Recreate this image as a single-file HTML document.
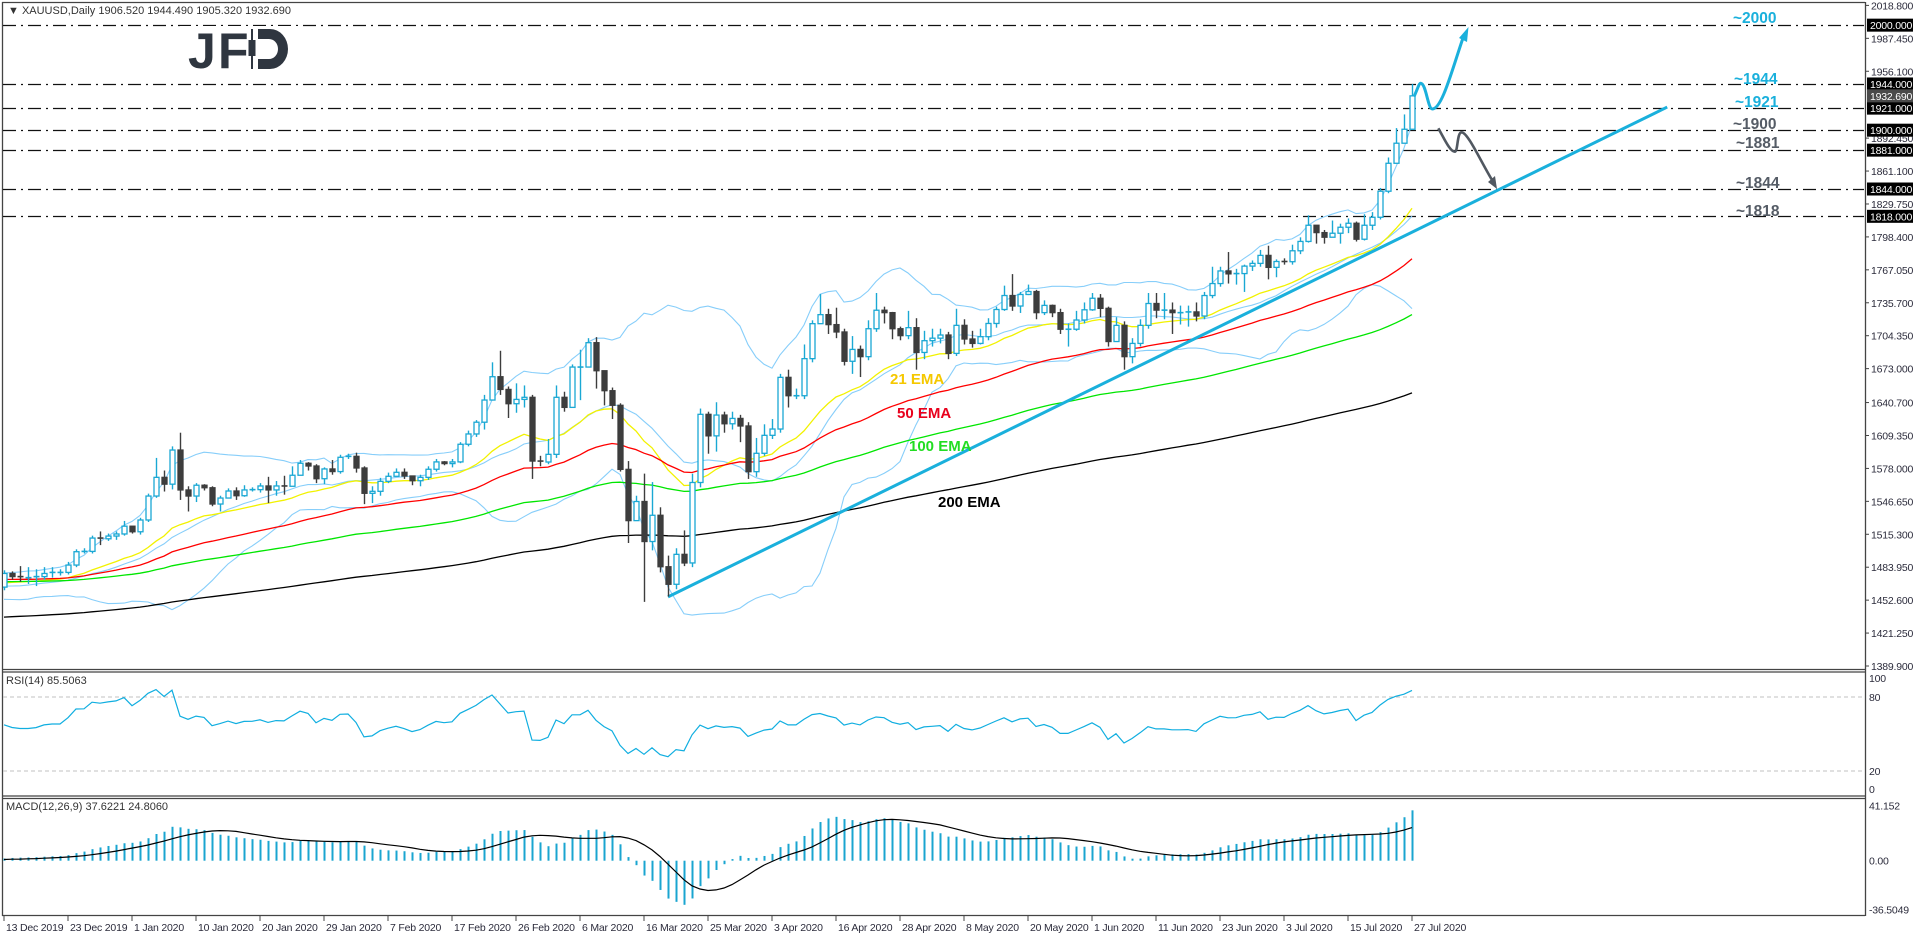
<!DOCTYPE html>
<html><head><meta charset="utf-8"><title>XAUUSD Daily</title>
<style>
html,body{margin:0;padding:0;background:#fff;}
svg{display:block;font-family:"Liberation Sans",Arial,sans-serif;}
</style></head>
<body>
<svg id="chart" width="1916" height="936" viewBox="0 0 1916 936" xmlns="http://www.w3.org/2000/svg">
<defs>
<clipPath id="mainClip"><rect x="3" y="3" width="1861" height="666"/></clipPath>
<clipPath id="rsiClip"><rect x="3" y="673" width="1861" height="122"/></clipPath>
<clipPath id="macdClip"><rect x="3" y="799" width="1861" height="115"/></clipPath>
</defs>
<rect x="0" y="0" width="1916" height="936" fill="#fff"/>
<g id="frames" fill="none" stroke="#444" stroke-width="1.3">
<line x1="2" y1="2.5" x2="1865" y2="2.5"/>
<line x1="2.5" y1="2" x2="2.5" y2="916"/>
<line x1="1865.5" y1="2" x2="1865.5" y2="916"/>
<line x1="2" y1="669.5" x2="1865" y2="669.5"/>
<line x1="2" y1="672" x2="1865" y2="672"/>
<line x1="2" y1="796" x2="1865" y2="796"/>
<line x1="2" y1="798.5" x2="1865" y2="798.5"/>
<line x1="2" y1="915.5" x2="1865" y2="915.5"/>
</g>
<g id="levels"></g>
<g id="logo">
<rect x="180" y="26" width="122" height="46" fill="#fff"/>
<text x="188" y="68" font-size="50" font-weight="bold" fill="#2f3640" letter-spacing="-1">J</text>
<text x="218" y="68" font-size="50" font-weight="bold" fill="#2f3640">F</text>
<rect x="251" y="29" width="2" height="40" fill="#2f3640"/>
<rect x="248.5" y="40" width="7" height="16" fill="#2f3640"/>
<path d="M258,29 h12 a18,20 0 0 1 0,40 h-12 v-10 h11 a9,10 0 0 0 0,-20 h-11 z" fill="#2f3640"/>
</g>
<g id="bands" clip-path="url(#mainClip)"></g>
<g id="emas" clip-path="url(#mainClip)"></g>
<g id="trend"></g>
<g id="candles" clip-path="url(#mainClip)"></g>
<g id="annot">
<path d="M1414,96.7 C1418,88 1419,83 1421,83.3 C1426,84 1428,109 1432.3,109 C1442,109 1452,70 1463,38" fill="none" stroke="#1ab0dc" stroke-width="3"/>
<polygon points="1468.5,27 1459,38 1467,42" fill="#1ab0dc"/>
<path d="M1438.3,128.3 C1444,138 1450,152 1455,151.7 C1458,151 1457,132 1461.7,132.3 C1468,133 1480,160 1492,180" fill="none" stroke="#515861" stroke-width="2.6"/>
<polygon points="1497,189 1488,182 1495,176" fill="#515861"/>
<text x="890" y="384" font-size="15" font-weight="bold" fill="#f5c800">21 EMA</text>
<text x="897" y="418" font-size="15" font-weight="bold" fill="#e8001c">50 EMA</text>
<text x="909" y="451" font-size="15" font-weight="bold" fill="#22dd22">100 EMA</text>
<text x="938" y="507" font-size="15" font-weight="bold" fill="#000">200 EMA</text>
</g>
<g id="levelLabels" font-size="15.5" font-weight="bold">
<text x="1733" y="23" fill="#1ab0dc">~2000</text>
<text x="1734" y="84" fill="#1ab0dc">~1944</text>
<text x="1735" y="107" fill="#1ab0dc">~1921</text>
<text x="1733" y="129" fill="#555c66">~1900</text>
<text x="1736" y="148" fill="#555c66">~1881</text>
<text x="1736" y="188" fill="#555c66">~1844</text>
<text x="1736" y="216" fill="#555c66">~1818</text>
</g>
<g id="rsi"></g>
<g id="macd"></g>
<g id="axes" font-size="10.5" fill="#2b2b3b" letter-spacing="-0.2"></g>
<text x="8" y="14" font-size="11" fill="#333">▼ XAUUSD,Daily  1906.520 1944.490 1905.320 1932.690</text>
<text x="6" y="684" font-size="11" fill="#333">RSI(14) 85.5063</text>
<text x="6" y="810" font-size="11" fill="#333">MACD(12,26,9) 37.6221 24.8060</text>
</svg>
<script>
// ---- data ----
const histClose = [1465,1470,1462,1458,1463,1466,1472,1470,1461,1455,1460,1464,1463,1462,1460,1459,1465,1477,1475,1465,1464,1465,1474,1462,1467];
const firstOpen = 1465;
const closes = [1478,1475,1474,1474,1475,1478,1479,1479,1486,1498.7,1499,1511.7,1511,1513.6,1515.6,1523,1517.7,1528.9,1551.7,1569.5,
1563,1595.5,1557.5,1551.7,1562,1559.6,1544.1,1549.8,1556.5,1552,1557.5,1557.8,1561.3,1557.5,1561.3,1561,1571.5,1582.9,1580.3,1568.2,
1577.5,1575,1588.6,1589.5,1578.4,1554.3,1556.2,1565.7,1570.5,1574.3,1570.8,1566.3,1569.5,1577.2,1584.2,1582.6,1584.2,1601,1610.8,1622,
1643.1,1665.3,1653.2,1639.6,1643.7,1645.7,1585,1584.1,1591.4,1645.7,1636.1,1674.5,1674.5,1697.7,1671,1652,1638.1,1577.1,1528.3,1546.5,
1508.4,1533.4,1484.4,1467.7,1496.2,1488,1564.6,1629.5,1609,1628.8,1620.5,1625.6,1618.4,1574.9,1592.4,1609.5,1615.5,1664.7,1647.2,1647.2,
1682.5,1715.8,1724.4,1714.9,1707.9,1680,1691.3,1684.4,1711,1728.6,1726.3,1711,1704.4,1712,1688.4,1699.6,1702,1705,1687.5,1714.2,
1701.2,1697,1703.4,1716,1729.3,1742.6,1732.6,1743.6,1746.4,1726.3,1733.2,1726.3,1710.5,1710.5,1719.3,1729,1740,1730.4,1698.8,1714.2,
1684.4,1697,1714.2,1735,1728.7,1728.7,1726.3,1726.3,1727,1723.1,1742.6,1754,1766,1763.2,1763.5,1770.6,1773.2,1780.8,1769.4,1775,
1774.8,1785.2,1794.1,1809.5,1802.5,1798.1,1801.9,1807.6,1811.4,1796.2,1809.5,1817.1,1841.9,1868.5,1887.6,1900.9,1932.7];
const highs = [1481,1480,1485,1484,1482,1484,1484,1482,1489,1501,1502,1514,1518,1516,1518,1528,1521,1531,1554,1588,
1576,1599,1612,1561,1564,1563,1561,1552,1559,1560,1562,1560,1564,1570,1566,1571,1580,1586,1584,1582,
1579,1586,1591,1592,1593,1580,1561,1569,1574,1578,1578,1571,1572,1580,1587,1585,1587,1603,1614,1624,
1648,1679,1690,1656,1659,1657,1648,1590,1606,1657,1651,1677,1691,1702,1703,1653,1655,1640,1585,1552,
1573,1565,1541,1495,1502,1519,1573,1635,1632,1641,1632,1632,1629,1622,1607,1620,1625,1668,1672,1654,
1696,1719,1744,1730,1731,1711,1704,1695,1719,1745,1732,1727,1713,1728,1721,1709,1711,1711,1708,1730,
1720,1709,1711,1721,1732,1752,1763,1746,1753,1748,1738,1734,1730,1716,1728,1736,1745,1744,1732,1722,
1718,1702,1720,1745,1745,1745,1736,1733,1733,1736,1746,1770,1770,1784,1768,1772,1776,1786,1790,1777,
1778,1791,1798,1819,1809,1805,1814,1811,1816,1813,1820,1822,1845,1874,1902,1915,1944];
const lows = [1462,1472,1470,1468,1466,1472,1474,1476,1477,1484,1497,1497,1505,1509,1510,1514,1516,1515,1527,1550,
1556,1558,1548,1537,1546,1557,1542,1537,1550,1548,1551,1556,1555,1545,1552,1553,1568,1574,1576,1564,
1563,1572,1573,1587,1574,1544,1545,1552,1564,1571,1568,1562,1561,1567,1575,1581,1579,1583,1599,1608,
1615,1656,1648,1626,1631,1636,1568,1580,1582,1588,1632,1636,1643,1686,1654,1638,1625,1575,1507,1540,
1451,1500,1479,1456,1463,1485,1484,1560,1592,1594,1612,1615,1603,1568,1570,1590,1606,1612,1636,1644,
1644,1679,1718,1706,1702,1676,1668,1665,1681,1708,1716,1701,1700,1701,1672,1682,1694,1697,1682,1685,
1696,1693,1696,1700,1712,1728,1728,1726,1743,1720,1724,1722,1706,1694,1709,1716,1728,1722,1694,1701,
1672,1678,1694,1711,1721,1720,1706,1715,1713,1718,1720,1740,1751,1754,1753,1746,1766,1770,1758,1760,
1772,1772,1782,1793,1792,1792,1800,1792,1802,1794,1795,1805,1815,1840,1880,1894,1905];
const emaSeeds = [1468, 1472, 1470, 1436]; // 21, 50, 100, 200 values before first bar
const emaPeriods = [21, 50, 100, 200];
const levelPrices = [2000, 1944, 1921, 1900, 1881, 1844, 1818];
const currentPrice = 1932.69;
const priceTicks = [2018.8,1987.45,1956.1,1892.45,1861.1,1829.75,1798.4,1767.05,1735.7,1704.35,1673.0,1640.7,1609.35,1578.0,1546.65,1515.3,1483.95,1452.6,1421.25,1389.9];
const dateLabels = ["13 Dec 2019","23 Dec 2019","1 Jan 2020","10 Jan 2020","20 Jan 2020","29 Jan 2020","7 Feb 2020","17 Feb 2020","26 Feb 2020","6 Mar 2020","16 Mar 2020","25 Mar 2020","3 Apr 2020","16 Apr 2020","28 Apr 2020","8 May 2020","20 May 2020","1 Jun 2020","11 Jun 2020","23 Jun 2020","3 Jul 2020","15 Jul 2020","27 Jul 2020"];
const trendStart = [83, 1455.7];
const trendEnd = [207.9, 1922];
const rsiLevels = [80, 20];
const rsiTicks = [100, 80, 20, 0];
const macdTicks = [41.152, 0, -36.5049];

// ---- scales ----
const NS = "http://www.w3.org/2000/svg";
function xB(i){ return 4 + 8*i; }
function yP(p){ return 666 - (p - 1389.9) * 1.0504; }
function yR(v){ return 795.7 - 1.233 * v; }
function yM(v){ return 860.7 - 1.337 * v; }
function mk(tag, attrs, parent){
  const el = document.createElementNS(NS, tag);
  for (const k in attrs) el.setAttribute(k, attrs[k]);
  parent.appendChild(el);
  return el;
}
const N = closes.length;
const opens = closes.map((c,i)=> i===0 ? firstOpen : closes[i-1]);

// ---- levels ----
const gLev = document.getElementById('levels');
levelPrices.forEach((p)=>{
  const y = Math.round(yP(p)) + 0.5;
  const ln = mk('line', {x1:3, y1:y, x2:1864, y2:y, stroke:'#111', 'stroke-width':1.2, 'stroke-dasharray':'13,5,2,5'}, gLev);
  
  
});

// ---- indicators ----
const all = histClose.concat(closes);
const H0 = histClose.length;
function emaFromSeed(period, seed){
  const a = 2/(period+1); let e = seed; const out=[];
  for (let i=0;i<N;i++){ e = e + a*(closes[i]-e); out.push(e); }
  return out;
}
function emaAll(period){
  const a = 2/(period+1); let e = all[0]; const out=[e];
  for (let i=1;i<all.length;i++){ e = e + a*(all[i]-e); out.push(e); }
  return out;
}
const emaColors = ['#f2f200','#ff0000','#00e600','#000000'];
const gE = document.getElementById('emas');
emaPeriods.forEach((per, k)=>{
  const e = emaFromSeed(per, emaSeeds[k]);
  const pts = e.map((v,i)=> xB(i)+','+yP(v).toFixed(1)).join(' ');
  const pl = mk('polyline', {points:pts, fill:'none', stroke:emaColors[k], 'stroke-width':1.3}, gE);
  
  
});
const bUp=[], bMid=[], bLo=[];
for (let i=0;i<N;i++){
  const j = H0+i; const w = all.slice(j-19, j+1);
  const m = w.reduce((s,v)=>s+v,0)/w.length;
  const sd = Math.sqrt(w.reduce((s,v)=>s+(v-m)*(v-m),0)/w.length);
  bMid.push(m); bUp.push(m+2*sd); bLo.push(m-2*sd);
}
const gB = document.getElementById('bands');
[['upper',bUp],['middle',bMid],['lower',bLo]].forEach(([nm,arr])=>{
  const pts = arr.map((v,i)=> xB(i)+','+yP(v).toFixed(1)).join(' ');
  const pl = mk('polyline', {points:pts, fill:'none', stroke:'#87cefa', 'stroke-width':1.1}, gB);
  
  
});

// ---- trendline ----
const gT = document.getElementById('trend');
const tl = mk('line', {x1:xB(trendStart[0]), y1:yP(trendStart[1]), x2:xB(trendEnd[0]), y2:yP(trendEnd[1]), stroke:'#1ab0dc', 'stroke-width':3}, gT);



// ---- candles ----
const gC = document.getElementById('candles');
for (let i=0;i<N;i++){
  const o=opens[i], c=closes[i], x=xB(i);
  const bull = c >= o;
  const col = bull ? '#1aa8d4' : '#3d3d3d';
  const g = mk('g', {}, gC);
  
  
  const wk = mk('line', {x1:x+0.5, x2:x+0.5, y1:yP(highs[i]), y2:yP(lows[i]), stroke:col, 'stroke-width':1.4}, g);
  
  
  const yt = yP(Math.max(o,c)), yb = yP(Math.min(o,c));
  if (yb - yt < 1.2){
    const dj = mk('line', {x1:x-2.5, x2:x+3.5, y1:yt, y2:yt, stroke:col, 'stroke-width':1.6}, g);
    
    
  } else {
    const bd = mk('rect', {x:x-2, y:yt, width:5, height:yb-yt, fill: bull ? '#fff' : col, stroke:col, 'stroke-width':1.3}, g);
    
    
  }
}

// ---- RSI(14) ----
const rsi = [];
(function(){
  let ag=0, al=0;
  for (let j=1;j<=14;j++){ const d=all[j]-all[j-1]; if(d>0) ag+=d; else al-=d; }
  ag/=14; al/=14;
  for (let j=15;j<all.length;j++){
    const d=all[j]-all[j-1];
    ag=(ag*13+Math.max(d,0))/14; al=(al*13+Math.max(-d,0))/14;
    if (j>=H0) rsi.push(al===0?100:100-100/(1+ag/al));
  }
})();
const gR = document.getElementById('rsi');
rsiLevels.forEach(v=>{
  const l = mk('line', {x1:3, x2:1864, y1:yR(v), y2:yR(v), stroke:'#c0c0c0', 'stroke-width':1, 'stroke-dasharray':'4,3'}, gR);
  
  
});
const rl = mk('polyline', {points: rsi.map((v,i)=>xB(i)+','+yR(v).toFixed(1)).join(' '), fill:'none', stroke:'#10aee0', 'stroke-width':1.2, 'clip-path':'url(#rsiClip)'}, gR);



// ---- MACD(12,26,9) ----
const e12 = emaAll(12), e26 = emaAll(26);
const macdAll = e12.map((v,j)=> v - e26[j]);
const macd = macdAll.slice(H0);
const sig = [];
for (let j=H0;j<all.length;j++){ const w=macdAll.slice(j-8,j+1); sig.push(w.reduce((s,v)=>s+v,0)/9); }
const gM = document.getElementById('macd');
const gMH = mk('g', {'clip-path':'url(#macdClip)'}, gM);


macd.forEach((v,i)=>{
  const b = mk('line', {x1:xB(i)+0.5, x2:xB(i)+0.5, y1:yM(0), y2:yM(v), stroke:'#1aa5d0', 'stroke-width':2}, gMH);
  
  
});
const sl = mk('polyline', {points: sig.map((v,i)=>xB(i)+','+yM(v).toFixed(1)).join(' '), fill:'none', stroke:'#000', 'stroke-width':1.2, 'clip-path':'url(#macdClip)'}, gM);



// ---- axes ----
const gA = document.getElementById('axes');
priceTicks.forEach(p=>{
  const y = yP(p);
  const tk = mk('line', {x1:1865, x2:1869, y1:y, y2:y, stroke:'#444', 'stroke-width':1}, gA);
  
  
  const t = mk('text', {x:1871, y:y+4}, gA);
  t.textContent = p.toFixed(3);
  
  
});
levelPrices.forEach(p=>{
  const y = yP(p);
  const r = mk('rect', {x:1867, y:y-6.5, width:46, height:13, fill:'#000'}, gA);
  
  
  const t = mk('text', {x:1870, y:y+4, fill:'#fff'}, gA);
  t.textContent = p.toFixed(3);
  
  
});
(function(){
  const y = yP(currentPrice);
  const r = mk('rect', {x:1867, y:y-6.5, width:46, height:13, fill:'#4a4a4a'}, gA);
  
  
  const t = mk('text', {x:1870, y:y+4, fill:'#fff'}, gA);
  t.textContent = currentPrice.toFixed(3);
  
  
})();
rsiTicks.forEach(v=>{
  const y = Math.min(Math.max(yR(v), 678), 789);
  const t = mk('text', {x:1869, y:y+4}, gA);
  t.textContent = String(v);
  
  
});
macdTicks.forEach(v=>{
  const y = yM(v);
  const t = mk('text', {x:1869, y:y+4}, gA);
  t.textContent = v === 0 ? '0.00' : String(v);
  
  
});
dateLabels.forEach((d,k)=>{
  const x = xB(k*8);
  const tk = mk('line', {x1:x, x2:x, y1:916, y2:921, stroke:'#444', 'stroke-width':1}, gA);
  
  
  const t = mk('text', {x:x+2, y:931}, gA);
  t.textContent = d;
  
  
});
</script>
</body></html>
